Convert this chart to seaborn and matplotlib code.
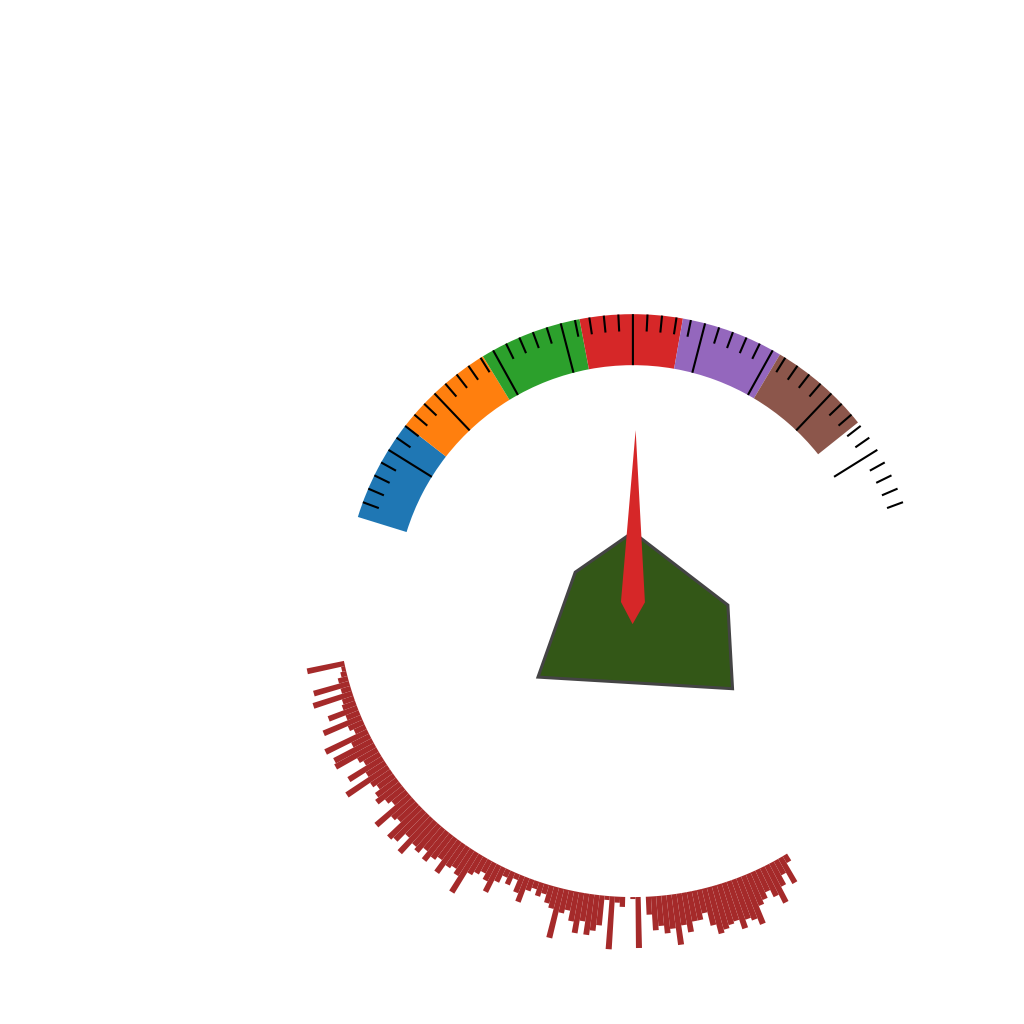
import numpy as np
import matplotlib
matplotlib.use("Agg")
import matplotlib.pyplot as plt
import seaborn as sns

sns.set_theme(style="white")

# gauge band (angles in degrees, radii in axis units)
seg_edges = [162.8, 142.1, 121.4, 100.7, 80.0, 59.3, 38.6]
seg_colors = sns.color_palette("tab10", 6)
band_inner = 237
band_outer = 288

# ticks: 49 ticks, a major one every 5th
tick_first = 159.7
tick_step = -2.904
n_ticks = 49
major_every = 5
minor_len = 17

# needle
needle_angle = 89.1
needle_len = 172
needle_half_w = 12
needle_tail = 22

# polygon (theta deg, r)
poly_theta = [90, 152.6, 218.3, 319, 358.2]
poly_r = [70, 65, 121, 132, 95]

# radial bars along the lower arc
bar_start = 192
bar_base = 295
bar_len = [38, 4, 6, 10, 37, 10, 41, 12, 14, 31, 14, 41, 16, 12, 47, 20, 43, 45, 22, 18,
           40, 22, 50, 24, 20, 26, 30, 22, 18, 45, 28, 25, 44, 41, 30, 47, 32, 35, 28, 37,
           30, 26, 39, 28, 25, 30, 47, 22, 18, 14, 20, 30, 16, 8, 14, 6, 18, 26, 12, 8,
           14, 10, 18, 22, 51, 24, 20, 30, 41, 28, 41, 36, 30, 4, 53, 6, 10, 0, 2, 51,
           0, 18, 34, 30, 38, 34, 51, 32, 40, 30, 30, 24, 38, 48, 45, 42, 40, 50, 42, 45,
           52, 34, 30, 24, 32, 42, 26, 16, 29, 8]

fig = plt.figure(figsize=(10.24, 10.24), dpi=100)
ax = fig.add_axes([0.2666, 0.0605, 0.703, 0.703], projection="polar")
ax.set_ylim(0, 360)
ax.set_axis_off()

# colored band segments
for i in range(len(seg_edges) - 1):
    a0, a1 = np.radians(seg_edges[i]), np.radians(seg_edges[i + 1])
    ax.bar((a0 + a1) / 2, band_outer - band_inner, width=abs(a1 - a0), bottom=band_inner,
           color=seg_colors[i], edgecolor="none", linewidth=0)

# ticks
for k in range(n_ticks):
    th = np.radians(tick_first + k * tick_step)
    r0 = band_inner if (k - 24) % major_every == 0 else band_outer - minor_len
    ax.plot([th, th], [r0, band_outer], color="black", lw=1.5, solid_capstyle="butt")

# radial bars
bar_theta = np.radians(bar_start + np.arange(len(bar_len)))
ax.bar(bar_theta, bar_len, width=np.radians(1.0), bottom=bar_base,
       color="#a52a2a", edgecolor="none", linewidth=0)

# polygon
ax.fill(np.radians(poly_theta), poly_r, facecolor="#335717", edgecolor="#444444", lw=2.2,
        joinstyle="miter", zorder=3)

# needle
na = np.radians(needle_angle)
n_theta = [na, na + np.pi / 2, na + np.pi, na - np.pi / 2]
n_r = [needle_len, needle_half_w, needle_tail, needle_half_w]
ax.fill(n_theta, n_r, color="#d62728", lw=0, zorder=4)

fig.savefig("out.png", dpi=100)
